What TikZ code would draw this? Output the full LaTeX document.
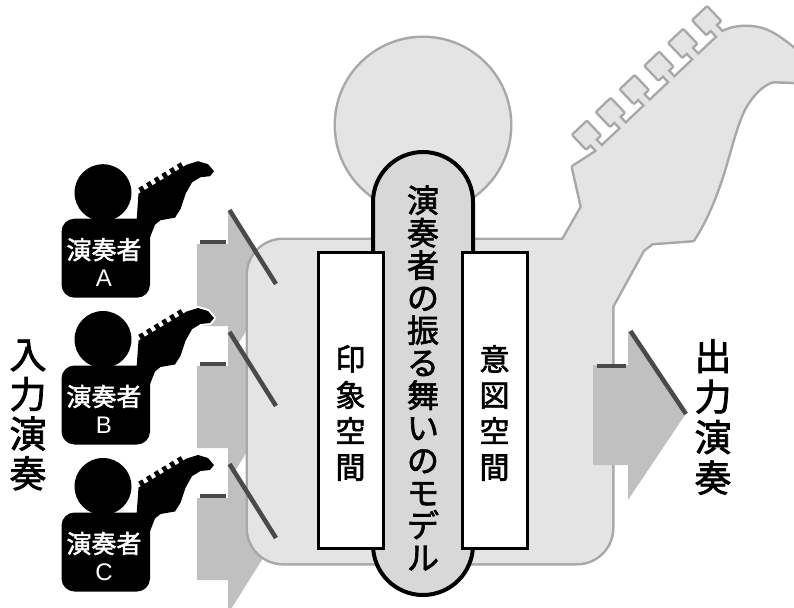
\documentclass[tikz,border=0pt]{standalone}
\usepackage{fontspec}
\newfontfamily\jpfont{Noto Sans CJK JP}[RawFeature={embolden=2}]
\newfontfamily\latinfont{Liberation Sans}
\usetikzlibrary{calc}

\definecolor{silfill}{HTML}{E4E4E4}
\definecolor{silline}{HTML}{A8A8A8}
\definecolor{arrowfill}{HTML}{C0C0C0}
\definecolor{arrowedge}{HTML}{4A4A4A}
\definecolor{pillfill}{HTML}{D8D8D8}

\tikzset{
  silout/.style={draw=silline, line width=5pt, line join=round},
  silin/.style={fill=silfill},
  blockarrow/.style={fill=arrowfill},
  bevel/.style={draw=arrowedge, line width=4.5pt},
  vtext/.style={inner sep=0pt, align=center},
}

% Large background figure: head, body and guitar drawn as one union
\newcommand\silshape[1]{%
  \path[#1] (423,125) circle[radius=87];
  \path[#1, rounded corners=35pt] (248,240) rectangle (612,563);
  \path[#1] (555,260) -- (562,242) -- (582,207) -- (573,167) -- (596.7,151.7)
    -- (723,32) .. controls (735,26) and (752,25) .. (767,31)
    .. controls (778,36) and (788,44) .. (800,54) -- (800,82) -- (773,81)
    .. controls (762,84) and (752,95) .. (745,107)
    .. controls (735,125) and (728,160) .. (719,185)
    .. controls (712,205) and (703,225) .. (693,240)
    -- (652,243) -- (643,250) -- (610,310) -- (600,400) -- (555,400) -- cycle;
  \begin{scope}[shift={(596.7,151.7)}]
    \begin{scope}[x={(0.724pt,0.690pt)}, y={(-0.690pt,0.724pt)}]
      \foreach \s in {4,37,70,104,137,170}{
        \path[#1] (\s-3,-3) -- (\s+3,-3) -- (\s+3,12) -- (\s-3,12) -- cycle;
        \path[#1] (\s-9,10) -- (\s+9,10) -- (\s+9,28) -- (\s-9,28) -- cycle;
      }
    \end{scope}
  \end{scope}
}

% Small performer icon: #1 head centre y, #2 name prefix, #3 letter
\newcommand\performer[3]{%
  \begin{scope}[shift={(103,#1)}]
    \fill[black] (0,0) circle[radius=28.5];
    \path[preaction={draw=white, line width=4pt, line join=round}, fill=black]
      (33.7,26.3) -- (35.5,1) -- (83.7,-28) -- (95,-31.5) -- (105,-28.5)
      -- (111,-21.5) -- (107,-16.5) -- (97.5,-15.5) -- (89,-10.3)
      -- (82.5,1.3) -- (77.5,16.3) -- (72,25) -- (57.5,27.5)
      -- (52,32) -- (47,44.7) -- (40,44.7) -- cycle;
    \begin{scope}[shift={(35.5,1)}]
      \begin{scope}[x={(0.856pt,0.517pt)}, y={(-0.517pt,0.856pt)}]
        \foreach \s in {5,14,23,32,41,50}{
          \fill[black] (\s-2.3,-1) -- (\s+2.3,-1) -- (\s+2.3,5) -- (\s-2.3,5) -- cycle;
        }
      \end{scope}
    \end{scope}
    \fill[black, rounded corners=13pt] (-41.5,26) rectangle (47,105);
    \node[text=white, font=\jpfont\fontsize{25}{25}\selectfont, inner sep=0pt]
      (#2-role) at (1,57) {演奏者};
    \node[text=white, font=\latinfont\fontsize{24}{24}\selectfont, inner sep=0pt]
      (#2-tag) at (1,86) {#3};
  \end{scope}}

\begin{document}
\begin{tikzpicture}[x=1pt, y=-1pt]
  \useasboundingbox (0,0) rectangle (794,607);
  \clip (0,0) rectangle (794,607);

  % input block arrows
  \foreach \cy in {285,407,539}{
    \path[blockarrow] (197,\cy-41) -- (228,\cy-41) -- (228,\cy-75) -- (275,\cy)
      -- (228,\cy+75) -- (228,\cy+41) -- (197,\cy+41) -- cycle;
  }

  % background figure
  \silshape{silout}
  \silshape{silin}

  % bevel edges of the input arrows
  \foreach \cy in {285,407,539}{
    \draw[bevel] (200,\cy-43) -- (226,\cy-43);
    \draw[bevel] (229.5,\cy-75) -- (276,\cy-1);
  }

  % output block arrow
  \path[blockarrow] (593,365) -- (628,365) -- (628,330) -- (685,415)
    -- (628,500) -- (628,465) -- (593,465) -- cycle;
  \draw[bevel] (597,366) -- (626,366);
  \draw[bevel] (630.5,331) -- (686,414);

  % central model
  \node[draw, line width=4pt, fill=pillfill, rounded corners=50pt,
        minimum width=100pt, minimum height=443pt, inner sep=0pt]
    (model) at (423,373.5) {};
  \node[vtext, font=\jpfont\fontsize{32}{32.5}\selectfont] (modeltext) at (423,378)
    {演\\奏\\者\\の\\振\\る\\舞\\い\\の\\モ\\デ\\ル};

  \node[draw, line width=3pt, fill=white, minimum width=65pt,
        minimum height=296pt, inner sep=0pt] (impression) at (350.5,400) {};
  \node[vtext, font=\jpfont\fontsize{30}{36}\selectfont] (impressiontext)
    at (350.5,413) {印\\象\\空\\間};

  \node[draw, line width=3pt, fill=white, minimum width=65pt,
        minimum height=296pt, inner sep=0pt] (intention) at (494.5,400) {};
  \node[vtext, font=\jpfont\fontsize{30}{36}\selectfont] (intentiontext)
    at (494.5,413) {意\\図\\空\\間};

  % side labels
  \node[vtext, font=\jpfont\fontsize{37}{39.6}\selectfont] (input) at (28,415)
    {入\\力\\演\\奏};
  \node[vtext, font=\jpfont\fontsize{37}{40.5}\selectfont] (output) at (713,417)
    {出\\力\\演\\奏};

  % performers
  \performer{192.7}{pA}{A}
  \performer{339.5}{pB}{B}
  \performer{486.5}{pC}{C}
\end{tikzpicture}
\end{document}
